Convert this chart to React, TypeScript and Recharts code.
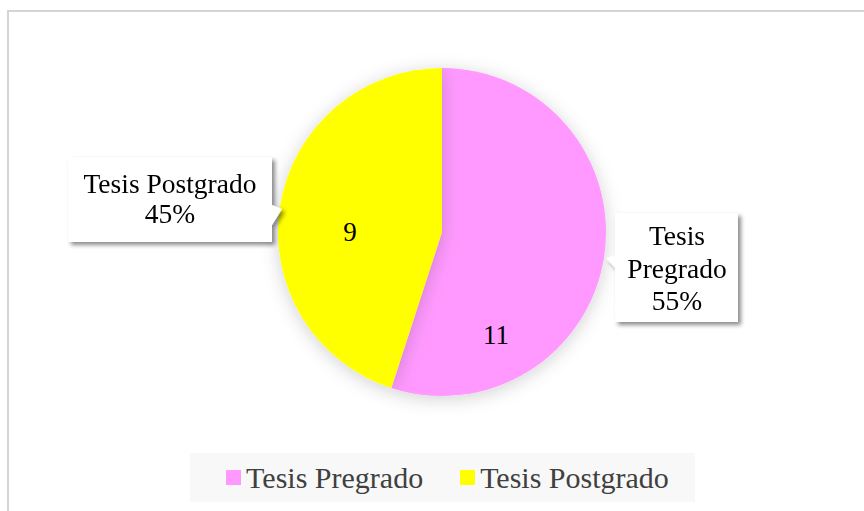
import { PieChart, Pie, Cell, Legend } from "recharts";

const categories = ["Tesis Pregrado", "Tesis Postgrado"];
const counts = [11, 9];
const colors = ["#FF99FF", "#FFFF00"];

const data = categories.map((name, i) => ({ name, value: counts[i] }));

const FONT = "'Liberation Serif', 'Times New Roman', serif";

// label placement relative to the pie centre (Excel puts these by hand)
const valueOffset = [
  { dx: 54, dy: 103 },
  { dx: -92, dy: 0 },
];

function Callout({ index, lines }: { index: number; lines: string[] }) {
  if (index === 0) {
    // right box, pointer to the left
    const x = 615, y = 213, w = 123, h = 109;
    return (
      <g filter="url(#boxShadow)">
        <polygon points={`${x},${y + 42} ${x - 9},${y + 45} ${x},${y + 55}`} fill="#fff" />
        <rect x={x} y={y} width={w} height={h} fill="#fff" />
        {lines.map((l, i) => (
          <text key={i} x={x + 62} y={245 + i * 32.5} textAnchor="middle" fontFamily={FONT} fontSize={27.5} fill="#000">
            {l}
          </text>
        ))}
      </g>
    );
  }
  const x = 68, y = 157, w = 204, h = 85;
  return (
    <g filter="url(#boxShadow)">
      <polygon points={`${x + w},${y + 48} ${x + w + 10},${y + 52} ${x + w},${y + 68}`} fill="#fff" />
      <rect x={x} y={y} width={w} height={h} fill="#fff" />
      {lines.map((l, i) => (
        <text key={i} x={x + 102} y={193 + i * 30} textAnchor="middle" fontFamily={FONT} fontSize={27.5} fill="#000">
          {l}
        </text>
      ))}
    </g>
  );
}

function renderLabel(props: any) {
  const { cx, cy, index, percent, name, value } = props;
  const off = valueOffset[index];
  const pct = `${Math.round(percent * 100)}%`;
  const lines = index === 0 ? ["Tesis", "Pregrado", pct] : [name, pct];
  return (
    <g>
      <text
        x={cx + off.dx}
        y={cy + off.dy + 9}
        textAnchor="middle"
        fontFamily={FONT}
        fontSize={27}
        fill="#000"
      >
        {value}
      </text>
      <Callout index={index} lines={lines} />
    </g>
  );
}

function LegendBox() {
  return (
    <div
      style={{
        width: 505,
        height: 49,
        boxSizing: "border-box",
        paddingLeft: 10,
        background: "#f8f8f8",
        display: "flex",
        alignItems: "center",
        justifyContent: "center",
        fontFamily: FONT,
        fontSize: 30,
        color: "#404040",
      }}
    >
      {categories.map((c, i) => (
        <div key={c} style={{ display: "flex", alignItems: "center", marginLeft: i ? 37 : 0 }}>
          <span style={{ width: 15, height: 15, background: colors[i], marginRight: 5, display: "inline-block" }} />
          <span style={{ lineHeight: "30px" }}>{c}</span>
        </div>
      ))}
    </div>
  );
}

export default function App() {
  return (
    <div style={{ position: "absolute", left: 0, top: 0, width: 864, height: 511, background: "#fff", overflow: "hidden" }}>
      <div
        style={{
          position: "absolute",
          left: 7,
          top: 10,
          width: 880,
          height: 520,
          border: "2px solid #d4d4d4",
          boxSizing: "border-box",
        }}
      />
      <div style={{ position: "absolute", left: 0, top: 0 }}>
        <PieChart width={864} height={511} margin={{ top: 0, right: 0, bottom: 0, left: 0 }}>
          <defs>
            <filter id="boxShadow" x="-20%" y="-20%" width="150%" height="150%">
              <feDropShadow dx={3} dy={3} stdDeviation={2} floodColor="#000" floodOpacity={0.45} />
            </filter>
            <filter id="pieShadow" x="-20%" y="-20%" width="140%" height="140%">
              <feDropShadow dx={0} dy={3} stdDeviation={9} floodColor="#000" floodOpacity={0.18} />
            </filter>
          </defs>
          <Pie
            data={data}
            dataKey="value"
            nameKey="name"
            cx={442}
            cy={232}
            outerRadius={164}
            startAngle={90}
            endAngle={-270}
            stroke="none"
            labelLine={false}
            label={renderLabel}
            isAnimationActive={false}
            style={{ filter: "url(#pieShadow)" }}
          >
            {data.map((d, i) => (
              <Cell key={d.name} fill={colors[i]} />
            ))}
          </Pie>
          <Legend
            content={() => <LegendBox />}
            wrapperStyle={{ position: "absolute", left: 190, top: 453, width: 505, height: 49 }}
          />
        </PieChart>
      </div>
    </div>
  );
}
